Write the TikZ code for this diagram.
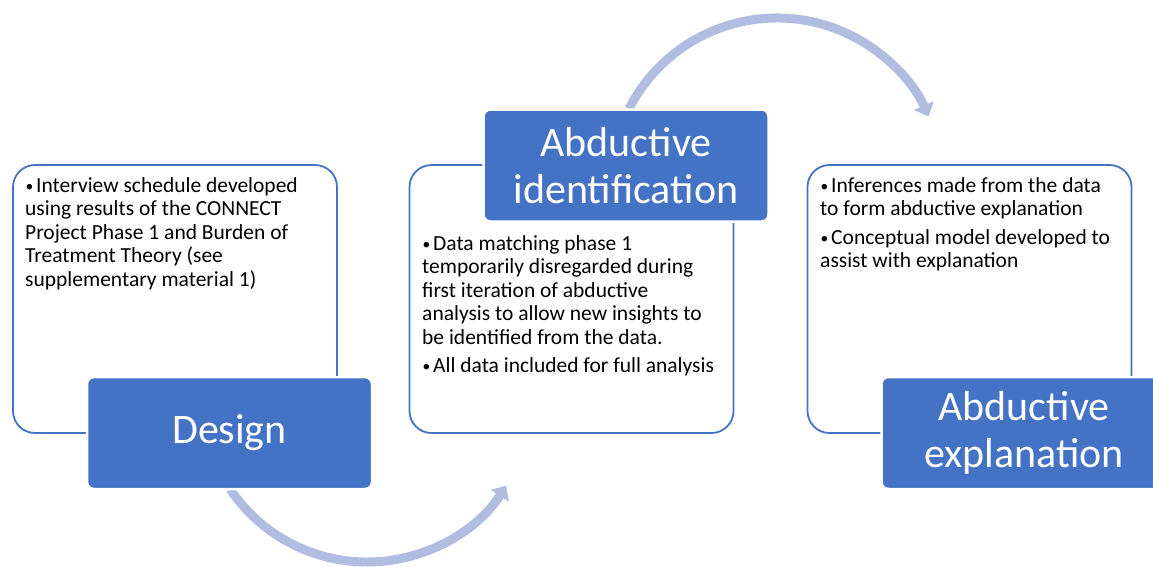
\documentclass[tikz,border=0pt]{standalone}
\usepackage{fontspec}
\setmainfont{Carlito}
\usetikzlibrary{arrows.meta}
\definecolor{accent}{RGB}{68,114,196}
\definecolor{arccol}{RGB}{176,189,224}
\newcommand\bitem{\par\hangindent=11pt\hangafter=1\noindent\makebox[11pt][l]{\hspace{0.5pt}\raisebox{0.8pt}{\scalebox{0.72}{\textbullet}}}}
\begin{document}
\begin{tikzpicture}[x=1pt,y=-1pt,
  outbox/.style={draw=accent,line width=1.8pt,fill=white,rounded corners=22pt,minimum width=324pt,minimum height=268pt,inner sep=0pt},
  headbox/.style={draw=white,line width=2.5pt,fill=accent,rounded corners=7pt,minimum width=285pt,minimum height=112pt,inner sep=0pt,text=white,align=center,font=\fontsize{42}{47}\selectfont},
  bodytext/.style={anchor=base west,inner sep=0pt,text=black,font=\fontsize{21.5}{23.6}\selectfont},
  arcline/.style={draw=arccol,line width=9pt,-{Triangle[length=12pt,width=21pt]}}]
\useasboundingbox (0,0) rectangle (1153,566);
\clip (0,0) rectangle (1153,566);
\coordinate (cbot) at (367,397);
\coordinate (ctop) at (777,184);
% arcs
\draw[arcline] ([shift={(214:165pt)}]cbot) arc[start angle=214,end angle=327.5,radius=165pt];
\draw[arcline] ([shift={(153:166pt)}]ctop) arc[start angle=153,end angle=24,radius=166pt];
% outline boxes
\node[outbox] (b1) at (175,299) {};
\node[outbox] (b2) at (571.5,299) {};
\node[outbox] (b3) at (969.5,299) {};
% body texts
\node[bodytext] (t1) at (25,192) {\parbox[t]{310pt}{\raggedright
\bitem Interview schedule developed\\ using results of the CONNECT\\ Project Phase 1 and Burden of\\ Treatment Theory (see\\ supplementary material 1)}};
\node[bodytext] (t2) at (422,250) {\parbox[t]{310pt}{\raggedright\setlength\parskip{4.5pt}
\bitem Data matching phase 1\\ temporarily disregarded during\\ first iteration of abductive\\ analysis to allow new insights to\\ be identified from the data.
\bitem All data included for full analysis}};
\node[bodytext] (t3) at (820,192) {\parbox[t]{310pt}{\raggedright\setlength\parskip{5pt}
\bitem Inferences made from the data\\ to form abductive explanation
\bitem Conceptual model developed to\\ assist with explanation}};
% heading boxes
\node[headbox] (design) at (229.5,433) {Design};
\node[headbox] (ident) at (626,165.5) {Abductive\\identification};
\node[headbox] (expl) at (1024,433) {Abductive\\explanation};
\end{tikzpicture}
\end{document}
